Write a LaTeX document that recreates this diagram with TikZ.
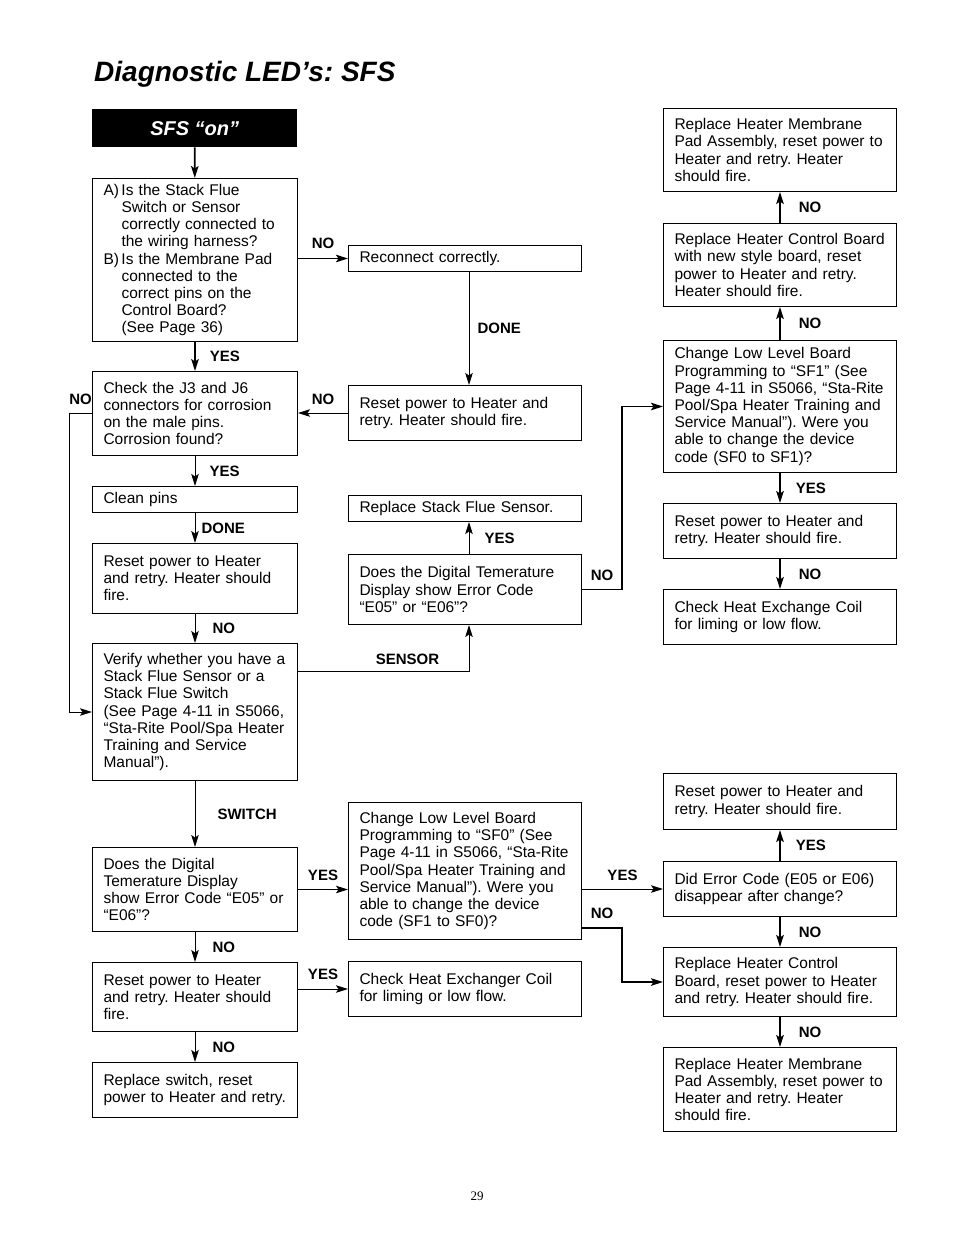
\documentclass[tikz,border=0pt]{standalone}
\usepackage{fontspec}
\setmainfont{Liberation Sans}
\newfontfamily\pagefont{Liberation Serif}
\usetikzlibrary{arrows.meta}

\newcommand{\boxfont}{\fontsize{15.5}{17.2}\selectfont}
\frenchspacing

\begin{document}
\begin{tikzpicture}[x=1pt, y=-1pt,
  box/.style={draw, line width=1pt, anchor=north west, inner xsep=11pt,
    inner ysep=1pt, align=left, font=\boxfont},
  lbox/.style={box, text width=183pt, minimum height=#1},
  rbox/.style={box, text width=211pt, minimum height=#1},
  lbl/.style={font=\bfseries\fontsize{15}{15}\selectfont, inner sep=0pt},
  conn/.style={-{Stealth[length=12pt, width=7.5pt, inset=2.5pt]}, line width=1pt},
  thk/.style={conn, line width=1.8pt}]
  \useasboundingbox (0,0) rectangle (954,1235);
  \node[anchor=base west, inner sep=0pt,
    font=\bfseries\itshape\fontsize{28}{30}\selectfont] (title) at (94,81)
    {Diagnostic LED’s: SFS};
  \node[fill=black, text=white, anchor=north west, minimum width=205pt,
    minimum height=38pt, font=\bfseries\itshape\fontsize{20}{22}\selectfont]
    (on) at (92,109) {SFS “on”};
  % left column
  \node[lbox=163pt] (qa) at (92,178) {\makebox[18pt][l]{A)}Is the Stack Flue\\
    \hspace*{18pt}Switch or Sensor\\ \hspace*{18pt}correctly connected to\\
    \hspace*{18pt}the wiring harness?\\ \makebox[18pt][l]{B)}Is the Membrane Pad\\
    \hspace*{18pt}connected to the\\ \hspace*{18pt}correct pins on the\\
    \hspace*{18pt}Control Board?\\ \hspace*{18pt}(See Page 36)};
  \node[lbox=84pt] (j3) at (92,371) {Check the J3 and J6\\connectors for corrosion\\
    on the male pins.\\Corrosion found?};
  \node[lbox=26pt] (clean) at (92,486) {Clean pins};
  \node[lbox=70pt] (rst2) at (92,543) {Reset power to Heater\\and retry. Heater should\\fire.};
  \node[lbox=137pt] (vfy) at (92,643) {Verify whether you have a\\Stack Flue Sensor or a\\
    Stack Flue Switch\\(See Page 4-11 in S5066,\\“Sta-Rite Pool/Spa Heater\\
    Training and Service\\Manual”).};
  \node[lbox=84pt] (dig2) at (92,847) {Does the Digital\\Temerature Display\\
    show Error Code “E05” or\\“E06”?};
  \node[lbox=69pt] (rst4) at (92,962) {Reset power to Heater\\and retry. Heater should\\fire.};
  \node[lbox=55pt] (swap) at (92,1062) {Replace switch, reset\\power to Heater and retry.};
  % middle column
  \node[rbox=26pt] (recon) at (348,245) {Reconnect correctly.};
  \node[rbox=55pt] (rst1) at (348,385) {Reset power to Heater and\\retry. Heater should fire.};
  \node[rbox=26pt] (sfsens) at (348,495) {Replace Stack Flue Sensor.};
  \node[rbox=70pt] (dig1) at (348,554) {Does the Digital Temerature\\
    Display show Error Code\\“E05” or “E06”?};
  \node[rbox=137pt] (low0) at (348,802) {Change Low Level Board\\Programming to “SF0” (See\\
    Page 4-11 in S5066, “Sta-Rite\\Pool/Spa Heater Training and\\
    Service Manual”). Were you\\able to change the device\\code (SF1 to SF0)?};
  \node[rbox=55pt] (coil2) at (348,961) {Check Heat Exchanger Coil\\for liming or low flow.};
  % right column
  \node[rbox=83pt] (pad1) at (663,108) {Replace Heater Membrane\\Pad Assembly, reset power to\\
    Heater and retry. Heater\\should fire.};
  \node[rbox=83pt] (board1) at (663,223) {Replace Heater Control Board\\
    with new style board, reset\\power to Heater and retry.\\Heater should fire.};
  \node[rbox=132pt] (low1) at (663,340) {Change Low Level Board\\Programming to “SF1” (See\\
    Page 4-11 in S5066, “Sta-Rite\\Pool/Spa Heater Training and\\
    Service Manual”). Were you\\able to change the device\\code (SF0 to SF1)?};
  \node[rbox=55pt] (rst3) at (663,503) {Reset power to Heater and\\retry. Heater should fire.};
  \node[rbox=55pt] (coil1) at (663,589) {Check Heat Exchange Coil\\for liming or low flow.};
  \node[rbox=56pt] (rst5) at (663,773) {Reset power to Heater and\\retry. Heater should fire.};
  \node[rbox=55pt] (err) at (663,861) {Did Error Code (E05 or E06)\\disappear after change?};
  \node[rbox=69pt] (board2) at (663,947) {Replace Heater Control\\
    Board, reset power to Heater\\and retry. Heater should fire.};
  \node[rbox=84pt] (pad2) at (663,1047) {Replace Heater Membrane\\Pad Assembly, reset power to\\
    Heater and retry. Heater\\should fire.};
  \node[font=\pagefont\fontsize{13}{13}\selectfont] (pg) at (477,1196) {29};
  % connectors
  \draw[thk] (on) -- (qa);
  \draw[thk] (qa.east |- recon.west) -- node[lbl, above=9pt] (n1) {NO} (recon.west);
  \draw[thk] (qa) -- node[lbl, right=14pt] (y1) {YES} (j3);
  \draw[conn] ([xshift=4pt]recon.south) -- node[lbl, right=8pt] (d1) {DONE}
    ([xshift=4pt]rst1.north);
  \draw[conn] (rst1.west) -- node[lbl, above=8pt] (n2) {NO} (rst1.west -| j3.east);
  \draw[conn] (j3.west) -- node[lbl, above=8pt] (n3) {NO} ++(-23,0) |- (vfy.west);
  \draw[conn] (j3) -- node[lbl, right=14pt] (y2) {YES} (clean);
  \draw[conn] (clean) -- node[lbl, right=6pt] (d2) {DONE} (rst2);
  \draw[conn] (rst2) -- node[lbl, right=17pt] (n4) {NO} (vfy);
  \draw[conn] ([yshift=-28pt]vfy.north east) -| node[lbl, above=6pt, pos=0.32] (s1)
    {SENSOR} ([xshift=4pt]dig1.south);
  \draw[conn] ([xshift=4pt]dig1.north) -- node[lbl, right=15pt] (y3) {YES}
    ([xshift=4pt]sfsens.south);
  \draw[thk] (dig1.east) -- node[lbl, above=8pt] (n5) {NO} ++(40,0) |- (low1.west);
  \draw[thk] (low1) -- node[lbl, right=15pt] (y4) {YES} (rst3);
  \draw[thk] (rst3) -- node[lbl, right=18pt] (n6) {NO} (coil1);
  \draw[thk] (low1) -- node[lbl, right=18pt] (n7) {NO} (board1);
  \draw[thk] (board1) -- node[lbl, right=18pt] (n8) {NO} (pad1);
  \draw[conn] (vfy) -- node[lbl, right=22pt] (sw) {SWITCH} (dig2);
  \draw[conn] (dig2.east) -- node[lbl, above=8pt] (y5) {YES} (dig2.east -| low0.west);
  \draw[conn] (dig2) -- node[lbl, right=17pt] (n9) {NO} (rst4);
  \draw[conn] (rst4.east |- coil2.west) -- node[lbl, above=9pt] (y6) {YES} (coil2.west);
  \draw[conn] (rst4) -- node[lbl, right=17pt] (n10) {NO} (swap);
  \draw[conn] (low0.east |- err.west) -- node[lbl, above=8pt] (y7) {YES} (err.west);
  \draw[thk] ([yshift=12pt]low0.south east) -- node[lbl, above=8pt] (n11) {NO}
    ++(40,0) |- (board2.west);
  \draw[thk] (err) -- node[lbl, right=15pt] (y8) {YES} (rst5);
  \draw[thk] (err) -- node[lbl, right=18pt] (n12) {NO} (board2);
  \draw[thk] (board2) -- node[lbl, right=18pt] (n13) {NO} (pad2);
\end{tikzpicture}
\end{document}
